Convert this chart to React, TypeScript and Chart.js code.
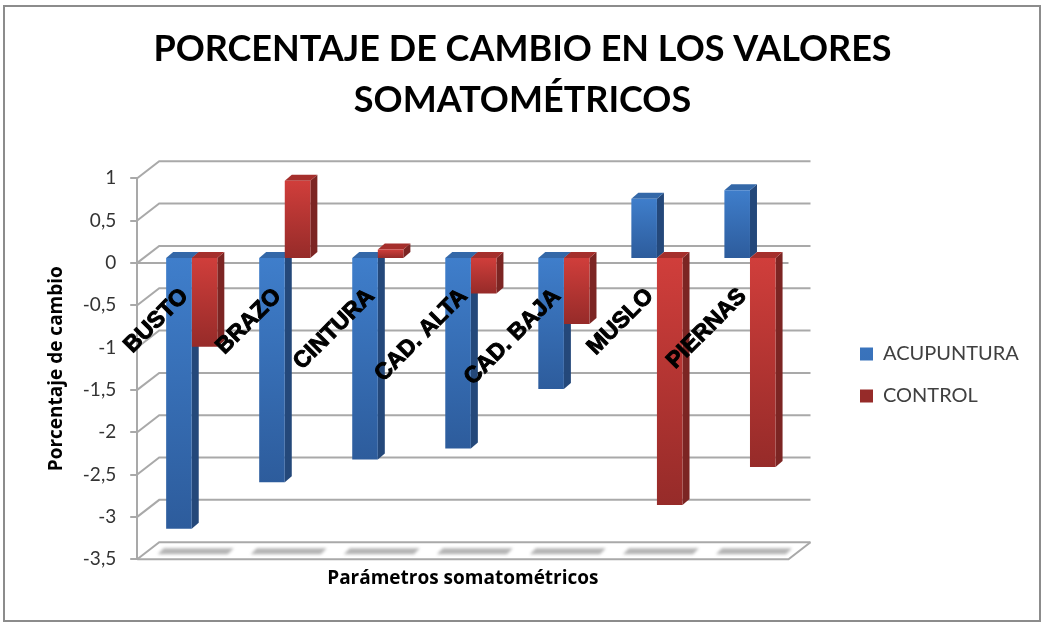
import React, { useEffect, useRef } from "react";
import { Chart, registerables } from "chart.js";

Chart.register(...registerables);

const categories = ["BUSTO", "BRAZO", "CINTURA", "CAD. ALTA", "CAD. BAJA", "MUSLO", "PIERNAS"];
const acupuntura = [-3.2, -2.65, -2.38, -2.25, -1.55, 0.7, 0.8];
const control = [-1.05, 0.91, 0.1, -0.42, -0.78, -2.92, -2.47];
const titleLines = ["PORCENTAJE DE CAMBIO EN LOS VALORES", "SOMATOMÉTRICOS"];

const GRID = "#a9a9a9";
const WALL_DX = 22;
const WALL_DY = 17;
const BAR_DX = 8;
const BAR_DY = 5;
const SIDE_DX = 7;
const SIDE_DY = 6;

function barFill(light: string, dark: string, solid: string) {
  return (c: any) => {
    const scales = c.chart.scales;
    if (c.parsed == null || !scales || !scales.y) return solid;
    const a = scales.y.getPixelForValue(0);
    const b = scales.y.getPixelForValue(c.parsed.y);
    if (!isFinite(a) || !isFinite(b) || a === b) return solid;
    const g = c.chart.ctx.createLinearGradient(0, Math.min(a, b), 0, Math.max(a, b));
    g.addColorStop(0, light);
    g.addColorStop(1, dark);
    return g;
  };
}

const scene3d = {
  id: "scene3d",
  afterLayout(chart: any) {
    // the layout caps a side legend's width; give it room for its label padding
    if (chart.legend) {
      chart.legend.left = 838;
      chart.legend.right = 1036;
      chart.legend.width = 198;
    }
  },
  beforeDraw(chart: any) {
    const { ctx, width, height } = chart;
    ctx.save();
    ctx.fillStyle = "#ffffff";
    ctx.fillRect(0, 0, width, height);
    ctx.strokeStyle = "#8c8c8c";
    ctx.lineWidth = 2;
    ctx.strokeRect(4, 6, width - 5, height - 7);
    ctx.restore();
  },
  beforeDatasetsDraw(chart: any) {
    const { ctx, chartArea: area, scales } = chart;
    const y = scales.y;
    const x = scales.x;
    ctx.save();
    ctx.strokeStyle = GRID;
    ctx.lineWidth = 2;
    y.ticks.forEach((t: any) => {
      const py = y.getPixelForValue(t.value);
      ctx.beginPath();
      ctx.moveTo(area.left, py);
      ctx.lineTo(area.left + WALL_DX, py - WALL_DY);
      ctx.lineTo(area.right + WALL_DX, py - WALL_DY);
      ctx.stroke();
    });
    const floor = y.getPixelForValue(-3.5);
    const zero = y.getPixelForValue(0);
    ctx.beginPath();
    ctx.moveTo(area.left, floor);
    ctx.lineTo(area.right, floor);
    ctx.lineTo(area.right + WALL_DX, floor - WALL_DY);
    ctx.moveTo(area.left, zero);
    ctx.lineTo(area.right, zero);
    ctx.stroke();

    ctx.filter = "blur(1.5px)";
    ctx.fillStyle = "#b4b4b4";
    categories.forEach((_, i) => {
      const cx = x.getPixelForTick(i) + 12;
      const cy = floor - 8;
      ctx.beginPath();
      ctx.moveTo(cx - 38, cy + 3);
      ctx.lineTo(cx - 32, cy - 3);
      ctx.lineTo(cx + 38, cy - 3);
      ctx.lineTo(cx + 32, cy + 3);
      ctx.closePath();
      ctx.fill();
    });
    ctx.filter = "none";
    ctx.restore();

    ctx.save();
    ctx.translate(BAR_DX, -BAR_DY);
    const faces = [
      { side: "#24487a", top: "#3468a8" },
      { side: "#7c2523", top: "#a52f2c" },
    ];
    chart.data.datasets.forEach((_: any, di: number) => {
      chart.getDatasetMeta(di).data.forEach((bar: any) => {
        const half = bar.width / 2;
        const l = bar.x - half;
        const r = bar.x + half;
        const top = Math.min(bar.y, bar.base);
        const bottom = Math.max(bar.y, bar.base);
        ctx.fillStyle = faces[di].side;
        ctx.beginPath();
        ctx.moveTo(r, top);
        ctx.lineTo(r + SIDE_DX, top - SIDE_DY);
        ctx.lineTo(r + SIDE_DX, bottom - SIDE_DY);
        ctx.lineTo(r, bottom);
        ctx.closePath();
        ctx.fill();
        ctx.fillStyle = faces[di].top;
        ctx.beginPath();
        ctx.moveTo(l, top);
        ctx.lineTo(l + SIDE_DX, top - SIDE_DY);
        ctx.lineTo(r + SIDE_DX, top - SIDE_DY);
        ctx.lineTo(r, top);
        ctx.closePath();
        ctx.fill();
      });
    });
  },
  afterDatasetsDraw(chart: any) {
    chart.ctx.restore();
  },
};

export default function App() {
  const ref = useRef<HTMLCanvasElement>(null);
  useEffect(() => {
    const chart = new Chart(ref.current as HTMLCanvasElement, {
      type: "bar",
      data: {
        labels: categories,
        datasets: [
          {
            label: "ACUPUNTURA",
            data: acupuntura,
            backgroundColor: barFill("#3f7ecb", "#2d5c9c", "#3a74bd"),
            categoryPercentage: 0.55,
            barPercentage: 1,
          },
          {
            label: "CONTROL",
            data: control,
            backgroundColor: barFill("#d03e3b", "#962b29", "#c23a37"),
            categoryPercentage: 0.55,
            barPercentage: 1,
          },
        ],
      },
      options: {
        responsive: false,
        animation: false,
        layout: { padding: { left: 23, right: 19, top: 24, bottom: 32 } },
        plugins: {
          title: {
            display: true,
            text: titleLines,
            color: "#000000",
            font: { family: "Lato", size: 36, weight: "bold", lineHeight: 1.42 },
            padding: { top: 0, bottom: 52 },
          },
          legend: {
            position: "right",
            title: { display: true, text: " ", padding: { top: 112, bottom: 0 }, font: { size: 20 } },
            labels: {
              color: "#404040",
              font: { family: "Lato", size: 20 },
              boxWidth: 13,
              boxHeight: 13,
              padding: 22,
            },
          },
          tooltip: { enabled: false },
        },
        scales: {
          x: {
            position: { y: 0 },
            grid: { display: false },
            border: { display: false },
            ticks: {
              z: 1,
              color: "#000000",
              font: { family: "Liberation Sans", size: 23, weight: "bold" },
              textStrokeColor: "#000000",
              textStrokeWidth: 1,
              minRotation: 45,
              maxRotation: 45,
              padding: 12,
              labelOffset: 1,
              autoSkip: false,
            },
          },
          x2: {
            type: "category",
            position: "bottom",
            axis: "x",
            labels: categories,
            grid: { display: false },
            border: { display: false },
            ticks: { display: false },
            title: {
              display: true,
              text: "Parámetros somatométricos",
              color: "#000000",
              font: { family: "Open Sans", size: 19, weight: "bold" },
              padding: { top: 0, bottom: 0 },
            },
          },
          spacer: {
            type: "linear",
            position: "right",
            axis: "y",
            grid: { display: false },
            border: { display: false },
            ticks: { display: false },
            afterFit: (s: any) => {
              s.width = 67;
            },
          },
          y: {
            min: -3.5,
            max: 1,
            grid: { drawOnChartArea: false, drawTicks: true, tickLength: 7, color: GRID, lineWidth: 2 },
            border: { color: GRID, width: 2 },
            ticks: {
              stepSize: 0.5,
              padding: 14,
              color: "#333333",
              font: { family: "Lato", size: 19 },
              callback: (v: any) => String(v).replace(".", ","),
            },
            title: {
              display: true,
              text: "Porcentaje de cambio",
              color: "#000000",
              font: { family: "Open Sans", size: 19, weight: "bold" },
              padding: { top: 22, bottom: 1 },
            },
          },
        },
      } as any,
      plugins: [scene3d],
    });
    return () => chart.destroy();
  }, []);
  return (
    <canvas
      ref={ref}
      width={1041}
      height={622}
      style={{ position: "fixed", left: 0, top: 0, display: "block" }}
    />
  );
}
